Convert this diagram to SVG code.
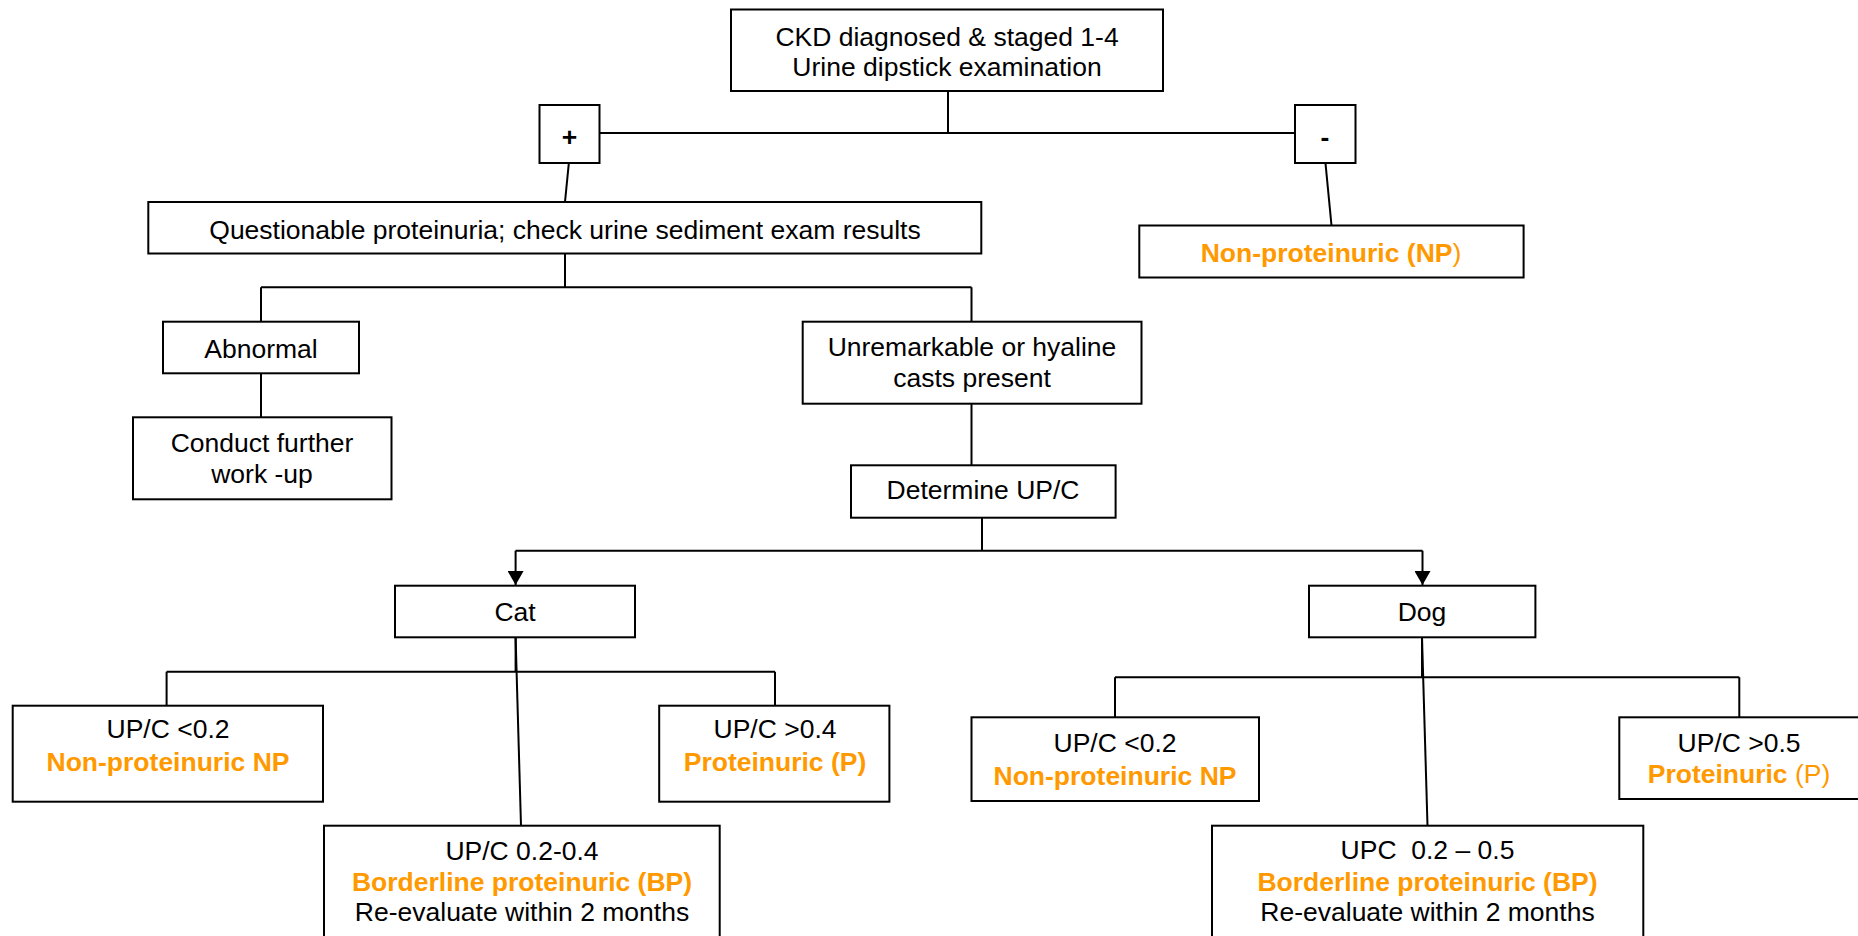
<svg xmlns="http://www.w3.org/2000/svg" width="1858" height="936" viewBox="0 0 1858 936">
<style>
.box{fill:#fff;stroke:#000;stroke-width:2}
.ln{fill:none;stroke:#000;stroke-width:2}
text{font-family:"Liberation Sans",Arial,sans-serif;font-size:26.5px;fill:#000;text-anchor:middle}
.o{fill:#FF9900}
.b{font-weight:bold}
</style>
<defs>
<marker id="arr" markerWidth="14" markerHeight="16" refX="14" refY="8" orient="auto" markerUnits="userSpaceOnUse">
<path d="M0,0 L14,8 L0,16 Z" fill="#000"/>
</marker>
</defs>
<rect width="1858" height="936" fill="#fff"/>
<g id="connectors">
<path class="ln" d="M948 91 V133 M599.7 133 H1295"/>
<path class="ln" d="M568.8 163.3 L565 202"/>
<path class="ln" d="M1325.5 163.3 L1331.5 225.5"/>
<path class="ln" d="M565 253.7 V287.3 M261 287.3 H971.5 M261 287.3 V321.7 M971.5 287.3 V321.7"/>
<path class="ln" d="M261 373.3 V417.3"/>
<path class="ln" d="M971.5 403.7 V465.3"/>
<path class="ln" d="M982 517.7 V550.7 M515.6 550.7 H1422.5"/>
<path class="ln" d="M515.6 550.7 V585" marker-end="url(#arr)"/>
<path class="ln" d="M1422.5 550.7 V585" marker-end="url(#arr)"/>
<path class="ln" d="M515.6 637.3 V671.7 M166.6 671.7 H775 M166.6 671.7 V705.7 M775 671.7 V705.7"/>
<path class="ln" d="M515.6 637.3 L521 825.7"/>
<path class="ln" d="M1422 637.3 V677.3 M1115 677.3 H1739.3 M1115 677.3 V717.3 M1739.3 677.3 V717.3"/>
<path class="ln" d="M1422 637.3 L1427.5 825.7"/>
</g>
<g id="n-top">
<rect class="box" x="731" y="9.5" width="432" height="81.5"/>
<text x="947" y="45.7">CKD diagnosed &amp; staged 1-4</text>
<text x="947" y="75.7">Urine dipstick examination</text>
</g>
<g id="n-plus">
<rect class="box" x="539.5" y="105" width="60" height="58"/>
<text class="b" x="569.5" y="146">+</text>
</g>
<g id="n-minus">
<rect class="box" x="1295" y="105" width="60.5" height="58"/>
<text class="b" x="1325" y="146">-</text>
</g>
<g id="n-questionable">
<rect class="box" x="148.3" y="202" width="833" height="51.5"/>
<text x="565" y="239">Questionable proteinuria; check urine sediment exam results</text>
</g>
<g id="n-np">
<rect class="box" x="1139.3" y="225.5" width="384.3" height="52"/>
<text x="1331" y="261.7" class="o"><tspan class="b">Non-proteinuric (NP</tspan>)</text>
</g>
<g id="n-abnormal">
<rect class="box" x="163" y="321.7" width="196" height="51.6"/>
<text x="261" y="357.7">Abnormal</text>
</g>
<g id="n-conduct">
<rect class="box" x="133" y="417.3" width="258.5" height="82"/>
<text x="262" y="451.7">Conduct further</text>
<text x="262" y="482.7">work -up</text>
</g>
<g id="n-unremarkable">
<rect class="box" x="802.7" y="321.7" width="338.8" height="82"/>
<text x="972" y="355.7">Unremarkable or hyaline</text>
<text x="972" y="386.7">casts present</text>
</g>
<g id="n-determine">
<rect class="box" x="851" y="465.3" width="264.6" height="52.4"/>
<text x="983" y="499">Determine UP/C</text>
</g>
<g id="n-cat">
<rect class="box" x="395" y="585.7" width="240" height="51.6"/>
<text x="515" y="620.7">Cat</text>
</g>
<g id="n-dog">
<rect class="box" x="1309" y="585.7" width="226.4" height="51.6"/>
<text x="1422" y="620.7">Dog</text>
</g>
<g id="n-cat-np">
<rect class="box" x="12.7" y="705.7" width="310.3" height="96"/>
<text x="168" y="738.3">UP/C &lt;0.2</text>
<text x="168" y="770.7" class="o b">Non-proteinuric NP</text>
</g>
<g id="n-cat-p">
<rect class="box" x="659.2" y="705.7" width="230.2" height="96"/>
<text x="775" y="738.3">UP/C &gt;0.4</text>
<text x="775" y="770.7" class="o b">Proteinuric (P)</text>
</g>
<g id="n-cat-bp">
<rect class="box" x="324" y="825.7" width="395.7" height="130"/>
<text x="522" y="860">UP/C 0.2-0.4</text>
<text x="522" y="891" class="o b">Borderline proteinuric (BP)</text>
<text x="522" y="921">Re-evaluate within 2 months</text>
</g>
<g id="n-dog-np">
<rect class="box" x="971.5" y="717.3" width="287.5" height="83.7"/>
<text x="1115" y="752.3">UP/C &lt;0.2</text>
<text x="1115" y="785" class="o b">Non-proteinuric NP</text>
</g>
<g id="n-dog-p">
<rect class="box" x="1619.3" y="717.3" width="260" height="81.7"/>
<text x="1739" y="752.3">UP/C &gt;0.5</text>
<text x="1739" y="783.3" class="o"><tspan class="b">Proteinuric</tspan> (P)</text>
</g>
<g id="n-dog-bp">
<rect class="box" x="1212" y="825.7" width="431.3" height="130"/>
<text x="1427.5" y="859" xml:space="preserve">UPC  0.2 – 0.5</text>
<text x="1427.5" y="891" class="o b">Borderline proteinuric (BP)</text>
<text x="1427.5" y="920.7">Re-evaluate within 2 months</text>
</g>
</svg>
